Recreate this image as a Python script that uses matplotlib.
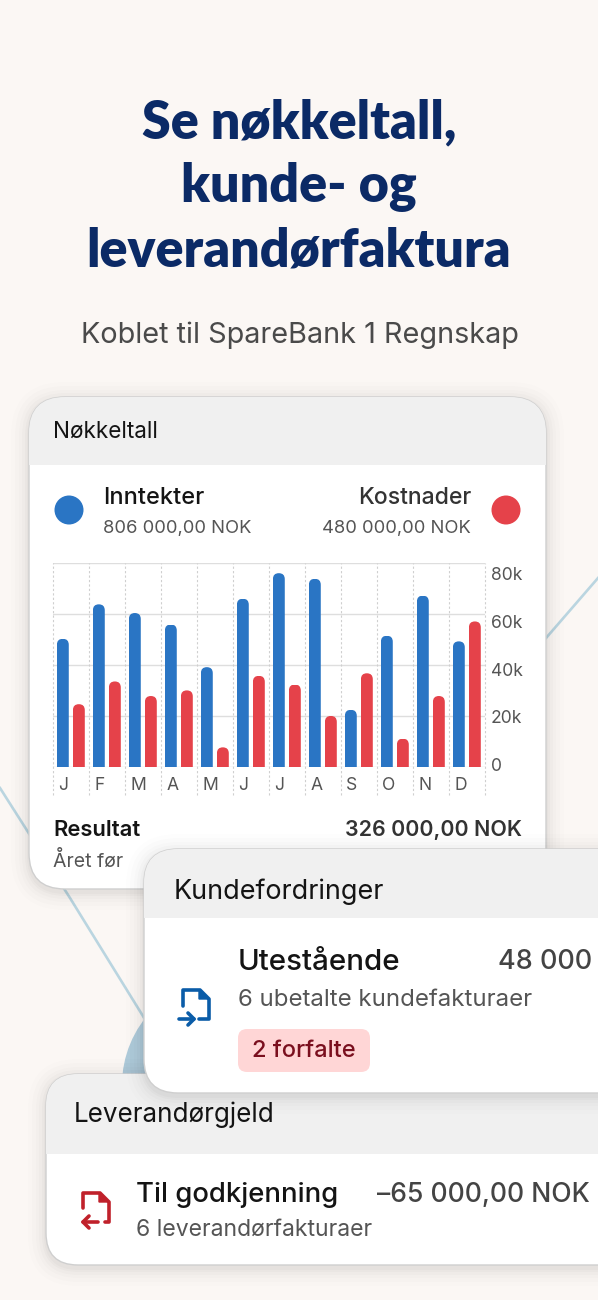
import matplotlib
matplotlib.use("Agg")
import matplotlib.pyplot as plt
import matplotlib.patches as patches
import numpy as np

months = ["J", "F", "M", "A", "M", "J", "J", "A", "S", "O", "N", "D"]
inntekter = [50.2, 63.7, 60.3, 55.8, 39.1, 65.9, 75.9, 73.7, 22.4, 51.4, 67.1, 49.2]
kostnader = [24.6, 33.5, 27.8, 30.0, 7.7, 35.7, 32.3, 20.0, 36.7, 11.1, 27.8, 57.0]
y_ticks = [0, 20, 40, 60, 80]
y_labels = ["0", "20k", "40k", "60k", "80k"]
y_label_shift = [0.2, -1.7, -4.7, -6.7, -9.5]

BG = "#FBF7F4"
NAVY = "#0B2A66"
BLUE = "#2A75C4"
RED = "#E5424A"
DARK = "#141414"
GREY = "#555555"
HEAD = "#F0F0F0"
LINE = "#BAD5E0"
TITLE_FONT = "Lato"
BODY_FONT = "Inter"


def px(size):
    return size * 0.72


def card(ax, x0, y0, x1, y1, head, rad, z):
    # soft shadow first
    for grow, alpha in [(18, 0.008), (14, 0.010), (10, 0.012), (7, 0.014), (4, 0.018), (2, 0.02)]:
        ax.add_patch(patches.FancyBboxPatch((x0 - grow, y0 - grow + 3), x1 - x0 + 2 * grow, y1 - y0 + 2 * grow,
                                            boxstyle=f"round,pad=0,rounding_size={rad + grow}",
                                            fc="black", ec="none", alpha=alpha, zorder=z))
    box = patches.FancyBboxPatch((x0, y0), x1 - x0, y1 - y0, boxstyle=f"round,pad=0,rounding_size={rad}",
                                 fc="white", ec="#CFCFCF", lw=1.0, zorder=z)
    ax.add_patch(box)
    top = patches.Rectangle((x0, y0), x1 - x0, head - y0, fc=HEAD, ec="none", zorder=z)
    ax.add_patch(top)
    top.set_clip_path(box)


def label(ax, x, y, s, size, color=DARK, weight="normal", ha="left", family=BODY_FONT, z=10):
    return ax.text(x, y, s, fontsize=px(size), color=color, fontweight=weight, ha=ha, va="center",
                   family=family, zorder=z)


fig = plt.figure(figsize=(5.98, 13), dpi=100, facecolor=BG)
bg = fig.add_axes([0, 0, 1, 1])
bg.set_xlim(0, 598)
bg.set_ylim(1300, 0)
bg.axis("off")

# background decoration
bg.plot([0, 70, 146], [788, 898, 1021], color=LINE, lw=1.9, zorder=0.5)
bg.plot([598, 540], [578, 645], color=LINE, lw=1.9, zorder=0.5)
bg.add_patch(patches.Circle((230, 1085), 108, fc="#AFCBDA", ec="none", zorder=0.6))

# heading
for yy, s in zip([123, 187, 251], ["Se nøkkeltall,", "kunde- og", "leverandørfaktura"]):
    label(bg, 299, yy, s, 52, color=NAVY, weight="heavy", ha="center", family=TITLE_FONT)
label(bg, 300, 335, "Koblet til SpareBank 1 Regnskap", 28.8, color="#4A4A4A", ha="center")

# key figures card
card(bg, 29, 397, 546, 889, 465, 36, 1)
label(bg, 53, 432, "Nøkkeltall", 22.5)
bg.add_patch(patches.Circle((69, 510), 14.5, fc=BLUE, ec="none", zorder=2))
bg.add_patch(patches.Circle((506, 510), 14.5, fc=RED, ec="none", zorder=2))
label(bg, 103, 498, "Inntekter", 23.5, weight="medium")
label(bg, 103, 529, "806 000,00 NOK", 18.4, color=GREY)
label(bg, 471, 498, "Kostnader", 23, weight="medium", color="#333333", ha="right")
label(bg, 471, 529, "480 000,00 NOK", 18.4, color=GREY, ha="right")
label(bg, 53, 830, "Resultat", 22, weight="semibold")
label(bg, 522, 830, "326 000,00 NOK", 21.4, weight="semibold", color="#333333", ha="right")
label(bg, 53, 861, "Året før", 19.4, color=GREY)

# payables card sits under the receivables card
card(bg, 46, 1074, 660, 1265, 1154, 32, 11)
label(bg, 74, 1115, "Leverandørgjeld", 26, z=12)
label(bg, 136, 1195, "Til godkjenning", 27.5, weight="medium", z=12)
label(bg, 590, 1195, "–65 000,00 NOK", 26.5, weight="medium", color="#444444", ha="right", z=12)
label(bg, 136, 1230, "6 leverandørfakturaer", 23, color=GREY, z=12)

# receivables card
card(bg, 144, 849, 660, 1093, 918, 34, 13)
label(bg, 174, 892, "Kundefordringer", 27, z=14)
label(bg, 238, 962, "Utestående", 29.5, weight="medium", z=14)
label(bg, 592, 962, "48 000", 27, weight="medium", color="#444444", ha="right", z=14)
label(bg, 238, 1000, "6 ubetalte kundefakturaer", 24, color=GREY, z=14)
bg.add_patch(patches.FancyBboxPatch((238, 1029), 132, 43, boxstyle="round,pad=0,rounding_size=9",
                                    fc="#FFD6D6", ec="none", zorder=14))
label(bg, 304, 1051, "2 forfalte", 23.6, color="#7A0F1E", weight="medium", ha="center", z=15)

# document icons
icon_blue = "#0A5CA8"
icon_kw = dict(lw=2.6, solid_capstyle="round", solid_joinstyle="round")
bg.plot([183, 183, 200, 209, 209, 199], [1006, 990, 990, 999, 1019, 1019], color=icon_blue, zorder=15, **icon_kw)
bg.add_patch(patches.Polygon([[199, 990], [209, 999], [199, 999]], fc=icon_blue, ec=icon_blue, lw=1, zorder=15))
bg.plot([179, 194], [1019, 1019], color=icon_blue, zorder=15, **icon_kw)
bg.plot([188, 194, 188], [1013, 1019, 1025], color=icon_blue, zorder=15, **icon_kw)

icon_red = "#C0212B"
bg.plot([83, 83, 100, 109, 109, 105], [1208, 1193, 1193, 1202, 1222, 1222], color=icon_red, zorder=12, **icon_kw)
bg.add_patch(patches.Polygon([[99, 1193], [109, 1202], [99, 1202]], fc=icon_red, ec=icon_red, lw=1, zorder=12))
bg.plot([83, 98], [1222, 1222], color=icon_red, zorder=12, **icon_kw)
bg.plot([89, 83, 89], [1216, 1222, 1228], color=icon_red, zorder=12, **icon_kw)

# bar chart, below the overlapping cards
chart = fig.add_axes([53.3 / 598, 1 - 767 / 1300, 432 / 598, 204.3 / 1300])
chart.set_facecolor("none")
chart.set_xlim(-0.5, 11.5)
chart.set_ylim(0, 80)
chart.spines[:].set_visible(False)
chart.tick_params(length=0, labelbottom=False, labelleft=False)
chart.set_xticks([])
chart.set_yticks(y_ticks)
chart.grid(axis="y", color="#DEDEDE", lw=1.0)
chart.set_axisbelow(True)

xpos = np.arange(len(months))
chart.vlines(np.arange(13) - 0.5, -11, 80, color="#CFCFCF", lw=0.8, linestyles=(0, (2, 2)), clip_on=False, zorder=1)

bar_w = 0.33
for offset, values, color in [(-0.235, inntekter, BLUE), (0.21, kostnader, RED)]:
    bars = chart.bar(xpos + offset, values, bar_w, color=color, zorder=3)
    for b in bars:
        # rounded top only: clip against a taller rounded box
        clip = patches.FancyBboxPatch((b.get_x(), -6), bar_w, b.get_height() + 6,
                                      boxstyle=f"round,pad=0,rounding_size={bar_w / 2}",
                                      mutation_aspect=14.2, transform=chart.transData)
        b.set_clip_path(clip)

for i, m in enumerate(months):
    chart.annotate(m, (i - 0.5, 0), xytext=(3.6, -13.5), textcoords="offset points", ha="left", va="center",
                   fontsize=px(17.5), color=GREY, family=BODY_FONT, annotation_clip=False)
for v, s, shift in zip(y_ticks, y_labels, y_label_shift):
    chart.annotate(s, (11.5, v), xytext=(3.8, shift), textcoords="offset points", ha="left", va="center",
                   fontsize=px(17.5), color=GREY, family=BODY_FONT, annotation_clip=False)

fig.savefig("out.png", dpi=100, facecolor=BG)
